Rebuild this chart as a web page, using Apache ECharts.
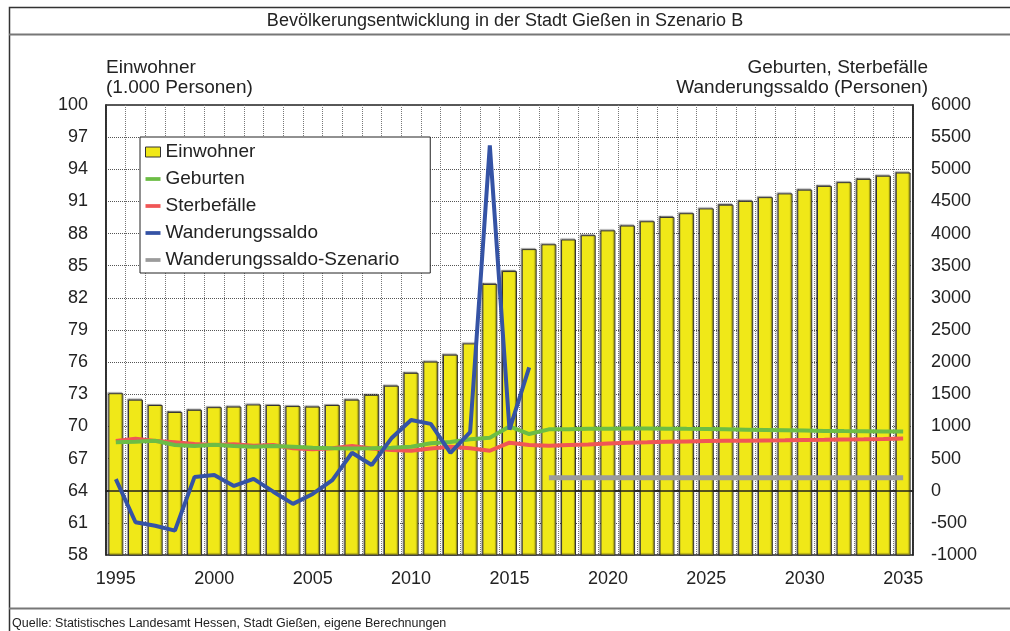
<!DOCTYPE html>
<html>
<head>
<meta charset="utf-8">
<script src="https://cdn.jsdelivr.net/npm/echarts@6/dist/echarts.min.js"></script>
<style>
  html, body { margin: 0; padding: 0; background: #fff; }
  #chart { width: 1010px; height: 631px; }
</style>
</head>
<body>
<div id="chart"></div>
<script>
// Jahre 1995 - 2035
const years = [];
for (let y = 1995; y <= 2035; y++) years.push(String(y));

// Einwohner in 1.000 Personen (linke Achse)
const einwohner = [73.1, 72.5, 72.0, 71.35, 71.55, 71.8, 71.85, 72.05, 72.0, 71.9, 71.85,
  72.0, 72.5, 72.95, 73.8, 75.0, 76.05, 76.7, 77.75, 83.3, 84.5,
  86.55, 87.0, 87.45, 87.85, 88.3, 88.75, 89.15, 89.55, 89.9, 90.35,
  90.7, 91.05, 91.4, 91.75, 92.1, 92.45, 92.8, 93.1, 93.4, 93.7];

// Personen (rechte Achse)
const geburten = [755, 760, 778, 711, 695, 716, 695, 685, 695, 685, 670,
  660, 655, 660, 670, 685, 737, 757, 799, 825, 1000,
  882, 955, 958, 962, 965, 967, 967, 965, 962, 960,
  955, 950, 945, 940, 935, 930, 927, 925, 922, 920];

const sterbefaelle = [773, 810, 773, 753, 727, 711, 722, 700, 711, 660, 644,
  660, 695, 655, 633, 622, 655, 685, 660, 622, 747,
  711, 700, 710, 720, 735, 745, 752, 760, 767, 773,
  776, 779, 782, 785, 789, 792, 796, 800, 805, 812];

const wanderungssaldo = [180, -490, -545, -620, 215, 245, 75, 185, -15, -205, -50,
  165, 590, 400, 815, 1100, 1040, 590, 910, 5370, 950, 1920,
  null, null, null, null, null, null, null, null, null, null,
  null, null, null, null, null, null, null, null, null];

const szenario = [null, null, null, null, null, null, null, null, null, null, null,
  null, null, null, null, null, null, null, null, null, null, null,
  200, 200, 200, 200, 200, 200, 200, 200, 200, 200,
  200, 200, 200, 200, 200, 200, 200, 200, 200];

const FONT = 'Arial, "Liberation Sans", sans-serif';
const lineIcon = 'path://M0,0 H16 V4 H0 Z';

const chart = echarts.init(document.getElementById('chart'));

chart.setOption({
  backgroundColor: '#fff',
  animation: false,
  textStyle: {fontFamily: FONT, color: '#222'},
  title: {
    text: 'Bevölkerungsentwicklung in der Stadt Gießen in Szenario B',
    left: 'center',
    top: 12,
    padding: 0,
    textStyle: {fontSize: 18, fontWeight: 'normal', color: '#222', fontFamily: FONT}
  },
  grid: {
    left: 106, right: 97, top: 105, bottom: 76,
    show: true, borderColor: '#222', borderWidth: 1.5
  },
  legend: {
    orient: 'vertical',
    left: 140,
    top: 137,
    padding: [5, 31, 3, 5],
    itemGap: 7,
    itemWidth: 15,
    itemHeight: 12,
    itemTextGap: 5,
    backgroundColor: '#fff',
    borderColor: '#222',
    borderWidth: 1,
    textStyle: {fontSize: 19, color: '#222', fontFamily: FONT, lineHeight: 20},
    data: [
      {name: 'Einwohner', icon: 'path://M0,0 H15 V10 H0 Z',
        itemStyle: {color: '#f0e818', borderColor: '#333', borderWidth: 1}},
      {name: 'Geburten', icon: lineIcon},
      {name: 'Sterbefälle', icon: lineIcon},
      {name: 'Wanderungssaldo', icon: lineIcon},
      {name: 'Wanderungssaldo-Szenario', icon: lineIcon}
    ]
  },
  xAxis: {
    type: 'category',
    data: years,
    boundaryGap: true,
    axisLine: {lineStyle: {color: '#222', width: 1.5}},
    axisTick: {show: false},
    axisLabel: {interval: 4, fontSize: 18, color: '#222', margin: 15},
    splitLine: {show: true, interval: 0, lineStyle: {color: '#777', type: 'dotted', width: 1}}
  },
  yAxis: [
    {
      type: 'value',
      min: 58, max: 100, interval: 3,
      axisLine: {show: true, lineStyle: {color: '#222', width: 1.5}},
      axisTick: {show: false},
      axisLabel: {fontSize: 18, color: '#222', margin: 18},
      splitLine: {lineStyle: {color: '#555', type: 'dotted', width: 1}}
    },
    {
      type: 'value',
      min: -1000, max: 6000, interval: 500,
      axisLine: {show: true, lineStyle: {color: '#222', width: 1.5}},
      axisTick: {show: false},
      axisLabel: {fontSize: 18, color: '#222', margin: 18, formatter: (v) => String(v)},
      splitLine: {show: false}
    }
  ],
  graphic: [
    {type: 'rect', silent: true, shape: {x: 9.5, y: 7.5, width: 1020, height: 640},
      style: {fill: 'none', stroke: '#333', lineWidth: 1.5}},
    {type: 'line', silent: true, shape: {x1: 9, y1: 34.5, x2: 1010, y2: 34.5},
      style: {stroke: '#777', lineWidth: 2}},
    {type: 'line', silent: true, shape: {x1: 9, y1: 608.5, x2: 1010, y2: 608.5},
      style: {stroke: '#777', lineWidth: 2}},
    {type: 'text', left: 106, top: 58,
      style: {text: 'Einwohner', font: '19px ' + FONT, fill: '#222'}},
    {type: 'text', left: 106, top: 78,
      style: {text: '(1.000 Personen)', font: '19px ' + FONT, fill: '#222'}},
    {type: 'text', right: 82, top: 58,
      style: {text: 'Geburten, Sterbefälle', font: '19px ' + FONT, fill: '#222'}},
    {type: 'text', right: 82, top: 78,
      style: {text: 'Wanderungssaldo (Personen)', font: '19px ' + FONT, fill: '#222'}},
    {type: 'text', left: 12, top: 617,
      style: {text: 'Quelle: Statistisches Landesamt Hessen, Stadt Gießen, eigene Berechnungen',
        font: '12.5px ' + FONT, fill: '#222'}}
  ],
  series: [
    {
      name: 'Einwohner',
      type: 'bar',
      data: einwohner,
      barCategoryGap: '24%',
      itemStyle: {
        color: '#f0e818', borderColor: '#333', borderWidth: 1,
        shadowColor: 'rgba(0,0,0,0.45)', shadowOffsetX: -1, shadowOffsetY: -1, shadowBlur: 1
      },
      z: 2
    },
    {
      name: 'Wanderungssaldo-Szenario',
      type: 'line',
      yAxisIndex: 1,
      data: szenario,
      symbol: 'none',
      itemStyle: {color: '#9b9b9b'},
      lineStyle: {color: '#9b9b9b', width: 5},
      markLine: {
        silent: true,
        symbol: 'none',
        label: {show: false},
        lineStyle: {color: '#222', width: 1.5, type: 'solid'},
        data: [{yAxis: 0}]
      },
      z: 3
    },
    {
      name: 'Sterbefälle',
      type: 'line',
      yAxisIndex: 1,
      data: sterbefaelle,
      symbol: 'none',
      itemStyle: {color: '#f05656'},
      lineStyle: {color: '#f05656', width: 4},
      z: 4
    },
    {
      name: 'Geburten',
      type: 'line',
      yAxisIndex: 1,
      data: geburten,
      symbol: 'none',
      itemStyle: {color: '#6cbd45'},
      lineStyle: {color: '#6cbd45', width: 4},
      z: 5
    },
    {
      name: 'Wanderungssaldo',
      type: 'line',
      yAxisIndex: 1,
      data: wanderungssaldo,
      symbol: 'none',
      itemStyle: {color: '#3553a5'},
      lineStyle: {color: '#3553a5', width: 4},
      z: 6
    }
  ]
});
</script>
</body>
</html>
